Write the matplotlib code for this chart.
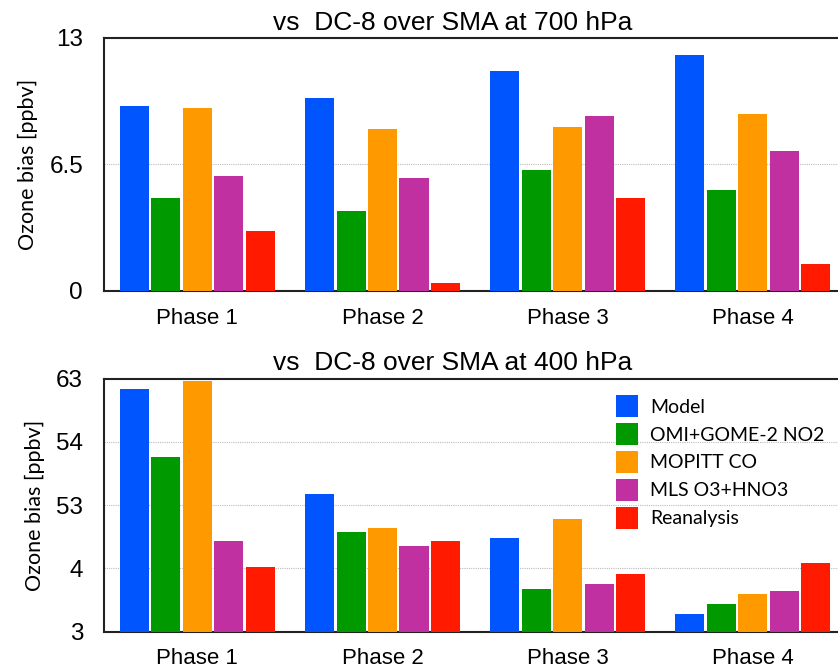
import numpy as np
import matplotlib.pyplot as plt

phases = ["Phase 1", "Phase 2", "Phase 3", "Phase 4"]
series = ["Model", "OMI+GOME-2 NO2", "MOPITT CO", "MLS O3+HNO3", "Reanalysis"]
colors = ["#0055ff", "#009900", "#ff9900", "#c030a0", "#ff1a00"]

# 700 hPa bias (ppbv), one list per series, values per phase
bias_700 = {
    "Model":          [9.5, 9.9, 11.3, 12.1],
    "OMI+GOME-2 NO2": [4.8, 4.1, 6.2, 5.2],
    "MOPITT CO":      [9.4, 8.3, 8.4, 9.1],
    "MLS O3+HNO3":    [5.9, 5.8, 9.0, 7.2],
    "Reanalysis":     [3.1, 0.4, 4.8, 1.4],
}
# 400 hPa bias on the (evenly spaced) tick scale of the original figure
bias_400 = {
    "Model":          [3.84, 2.18, 1.48, 0.28],
    "OMI+GOME-2 NO2": [2.76, 1.58, 0.67, 0.44],
    "MOPITT CO":      [3.96, 1.64, 1.78, 0.60],
    "MLS O3+HNO3":    [1.43, 1.36, 0.75, 0.64],
    "Reanalysis":     [1.02, 1.43, 0.91, 1.09],
}
ticks_700 = [0, 6.5, 13]
ticklabels_700 = ["0", "6.5", "13"]
ticks_400 = [0, 1, 2, 3, 4]
ticklabels_400 = ["3", "4", "53", "54", "63"]

fig = plt.figure(figsize=(8.38, 6.68), dpi=100)
ax1 = fig.add_axes([0.124, 0.5644, 0.876, 0.3788])
ax2 = fig.add_axes([0.124, 0.0543, 0.876, 0.3787])

x = np.arange(len(phases))
step, width = 0.17, 0.157


def draw(ax, data, ticks, labels, title):
    for i, (name, c) in enumerate(zip(series, colors)):
        ax.bar(x + (i - 2) * step, data[name], width=width, color=c, label=name, zorder=3)
    ax.set_xlim(-0.505, 3.46)
    ax.set_ylim(ticks[0], ticks[-1])
    ax.set_yticks(ticks)
    ax.set_yticklabels(labels, fontsize=17.5, family="Liberation Sans")
    ax.set_xticks(x)
    ax.set_xticklabels(phases, fontsize=16, family="Liberation Sans")
    ax.tick_params(axis="both", length=0)
    ax.tick_params(axis="y", pad=15)
    ax.tick_params(axis="x", pad=12)
    for t in ticks[1:-1]:
        ax.axhline(t, color="#bbbbbb", lw=0.8, ls=(0, (1, 1)), zorder=1)
    ax.spines["right"].set_visible(False)
    for s in ("left", "top", "bottom"):
        ax.spines[s].set_color("#222222")
        ax.spines[s].set_linewidth(1.5)
    ax.set_ylabel("Ozone bias [ppbv]", fontsize=15.5, family="Lato", labelpad=8)
    ax.set_title(title, fontsize=19, family="Liberation Sans", x=0.4755, pad=6)


draw(ax1, bias_700, ticks_700, ticklabels_700, "vs  DC-8 over SMA at 700 hPa")
draw(ax2, bias_400, ticks_400, ticklabels_400, "vs  DC-8 over SMA at 400 hPa")

ax2.legend(loc="upper left", bbox_to_anchor=(0.6975, 0.934), frameon=False,
           prop={"family": "Lato", "size": 14}, handlelength=1.15, handleheight=1.36,
           handletextpad=0.6, labelspacing=0.3, borderaxespad=0, borderpad=0)

fig.savefig("out.png", dpi=100)
